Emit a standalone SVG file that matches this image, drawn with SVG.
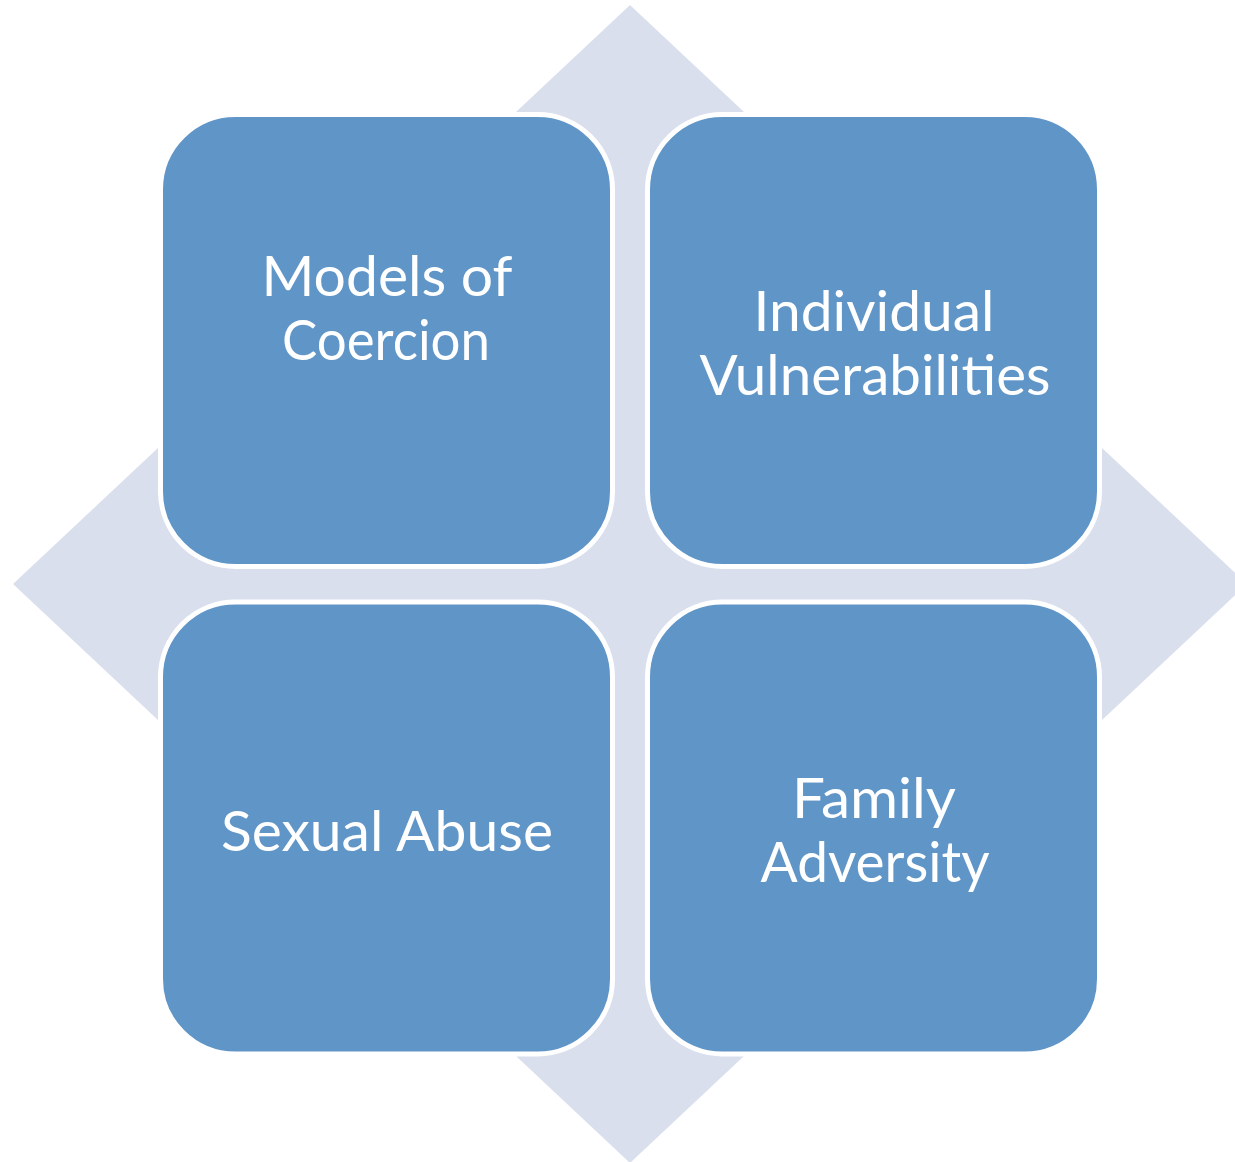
<svg xmlns="http://www.w3.org/2000/svg" width="1235" height="1162" viewBox="0 0 1235 1162">
  <style>
    .box { fill: #6095C8; stroke: #FFFFFF; stroke-width: 5; }
    .lbl { fill: #FFFFFF; font-family: Lato, "Liberation Sans", sans-serif; font-size: 56px; text-anchor: middle; }
  </style>
  <rect width="1235" height="1162" fill="#FFFFFF"/>
  <g id="background">
    <polygon points="630,5 1247,584 630,1163 13,584" fill="#DADFED"/>
  </g>
  <g id="connectors"></g>
  <g id="node-models-of-coercion">
    <rect class="box" x="160.5" y="114.5" width="452" height="452" rx="75" ry="75"/>
    <text class="lbl" x="387" y="296" textLength="251" lengthAdjust="spacingAndGlyphs">Models of</text>
    <text class="lbl" x="386" y="360" textLength="208" lengthAdjust="spacingAndGlyphs">Coercion</text>
  </g>
  <g id="node-individual-vulnerabilities">
    <rect class="box" x="647.5" y="114.5" width="452" height="452" rx="75" ry="75"/>
    <text class="lbl" x="874" y="331" textLength="241" lengthAdjust="spacingAndGlyphs">Individual</text>
    <text class="lbl" x="875" y="395" textLength="351" lengthAdjust="spacingAndGlyphs">Vulnerabilities</text>
  </g>
  <g id="node-sexual-abuse">
    <rect class="box" x="160.5" y="602" width="452" height="452" rx="75" ry="75"/>
    <text class="lbl" x="387" y="851" textLength="332" lengthAdjust="spacingAndGlyphs">Sexual Abuse</text>
  </g>
  <g id="node-family-adversity">
    <rect class="box" x="647.5" y="602" width="452" height="452" rx="75" ry="75"/>
    <text class="lbl" x="874" y="818" textLength="164" lengthAdjust="spacingAndGlyphs">Family</text>
    <text class="lbl" x="875" y="882" textLength="229" lengthAdjust="spacingAndGlyphs">Adversity</text>
  </g>
</svg>
